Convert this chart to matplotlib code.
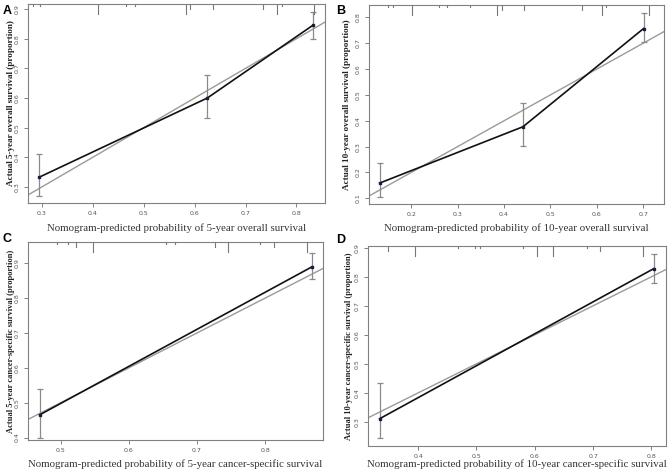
import matplotlib
matplotlib.use("Agg")
import matplotlib.pyplot as plt
import matplotlib.transforms as mtransforms

# calibration points: predicted, observed, CI low, CI high
a_pred = [0.295, 0.625, 0.832]
a_obs = [0.333, 0.600, 0.845]
a_lo = [0.268, 0.531, 0.800]
a_hi = [0.410, 0.676, 0.891]

b_pred = [0.132, 0.441, 0.701]
b_obs = [0.159, 0.377, 0.757]
b_lo = [0.104, 0.303, 0.703]
b_hi = [0.236, 0.469, 0.818]

c_pred = [0.469, 0.869]
c_obs = [0.465, 0.890]
c_lo = [0.400, 0.854]
c_hi = [0.538, 0.930]

d_pred = [0.334, 0.804]
d_obs = [0.311, 0.828]
d_lo = [0.245, 0.777]
d_hi = [0.433, 0.880]

# rug of predicted values along the top (position, relative height)
a_rug = [0.283, 0.297, 0.411, 0.466, 0.483, 0.583, 0.591, 0.636, 0.735, 0.762, 0.772, 0.834]
a_rug_h = [1, 1, 4, 1, 1, 4, 2, 2, 2, 4, 1, 4]
b_rug = [0.150, 0.161, 0.201, 0.260, 0.278, 0.327, 0.385, 0.395, 0.444, 0.569, 0.612, 0.621, 0.712]
b_rug_h = [1, 1, 4, 1, 1, 1, 4, 2, 2, 2, 4, 1, 4]
c_rug = [0.495, 0.510, 0.522, 0.548, 0.654, 0.668, 0.727, 0.746, 0.793, 0.813, 0.861]
c_rug_h = [1, 1, 2, 4, 1, 1, 2, 4, 1, 2, 4]
d_rug = [0.349, 0.394, 0.469, 0.497, 0.506, 0.580, 0.603, 0.631, 0.689, 0.712, 0.786]
d_rug_h = [2, 4, 1, 1, 1, 1, 4, 4, 1, 2, 4]

panels = [
    dict(letter="A", pred=a_pred, obs=a_obs, lo=a_lo, hi=a_hi, rug=a_rug, rug_h=a_rug_h,
         box=(28, 4, 325, 203), xlim=(0.273, 0.856), ylim=(0.246, 0.917),
         xt=[0.3, 0.4, 0.5, 0.6, 0.7, 0.8], yt=[0.3, 0.4, 0.5, 0.6, 0.7, 0.8, 0.9],
         xlabel="Nomogram-predicted probability of 5-year overall survival",
         ylabel="Actual 5-year overall survival (proportion)", ylfs=6.6,
         ylx=11, xly=228, lett=(7, 11)),
    dict(letter="B", pred=b_pred, obs=b_obs, lo=b_lo, hi=b_hi, rug=b_rug, rug_h=b_rug_h,
         box=(369, 5, 664, 204), xlim=(0.109, 0.745), ylim=(0.078, 0.848),
         xt=[0.2, 0.3, 0.4, 0.5, 0.6, 0.7], yt=[0.1, 0.2, 0.3, 0.4, 0.5, 0.6, 0.7, 0.8],
         xlabel="Nomogram-predicted probability of 10-year overall survival",
         ylabel="Actual 10-year overall survival (proportion)", ylfs=6.6,
         ylx=347, xly=228, lett=(341, 11)),
    dict(letter="C", pred=c_pred, obs=c_obs, lo=c_lo, hi=c_hi, rug=c_rug, rug_h=c_rug_h,
         box=(28, 242, 323, 440), xlim=(0.452, 0.885), ylim=(0.393, 0.961),
         xt=[0.5, 0.6, 0.7, 0.8], yt=[0.4, 0.5, 0.6, 0.7, 0.8, 0.9],
         xlabel="Nomogram-predicted probability of 5-year cancer-specific survival",
         ylabel="Actual 5-year cancer-specific survival (proportion)", ylfs=6.1,
         ylx=11, xly=464, lett=(7, 239)),
    dict(letter="D", pred=d_pred, obs=d_obs, lo=d_lo, hi=d_hi, rug=d_rug, rug_h=d_rug_h,
         box=(368, 246, 666, 446), xlim=(0.314, 0.825), ylim=(0.217, 0.906),
         xt=[0.4, 0.5, 0.6, 0.7, 0.8], yt=[0.3, 0.4, 0.5, 0.6, 0.7, 0.8, 0.9],
         xlabel="Nomogram-predicted probability of 10-year cancer-specific survival",
         ylabel="Actual 10-year cancer-specific survival (proportion)", ylfs=6.1,
         ylx=349, xly=464, lett=(341, 240)),
]

W, H = 669, 476
fig = plt.figure(figsize=(W / 100, H / 100), dpi=100)

spine_col = "#808080"
tick_col = "#555555"

for p in panels:
    l, t, r, b = p["box"]
    ax = fig.add_axes([l / W, 1 - b / H, (r - l) / W, (b - t) / H])
    ax.set_xlim(*p["xlim"])
    ax.set_ylim(*p["ylim"])

    # ideal line
    lo_ = min(p["xlim"][0], p["ylim"][0])
    hi_ = max(p["xlim"][1], p["ylim"][1])
    ax.plot([lo_, hi_], [lo_, hi_], color="#9a9a9a", lw=1.0, zorder=1)

    # error bars
    yerr = [[o - lo for o, lo in zip(p["obs"], p["lo"])],
            [hi - o for o, hi in zip(p["obs"], p["hi"])]]
    ax.errorbar(p["pred"], p["obs"], yerr=yerr, fmt="none", ecolor="#8a8a8a",
                elinewidth=0.9, capsize=2.5, capthick=0.9, zorder=2)
    ax.plot(p["pred"], p["obs"], color="#111111", lw=1.2, zorder=3)
    ax.plot(p["pred"], p["obs"], "s", color="#1a1a3a", ms=1.6, zorder=4)

    # rug at top
    trans = mtransforms.blended_transform_factory(ax.transData, ax.transAxes)
    for x, h in zip(p["rug"], p["rug_h"]):
        ax.plot([x, x], [1, 1 - 0.012 * h], color="#777777", lw=0.8, transform=trans,
                clip_on=False, zorder=2)

    for s in ax.spines.values():
        s.set_color(spine_col)
        s.set_linewidth(0.8)

    ax.set_xticks(p["xt"])
    ax.set_yticks(p["yt"])
    ax.set_xticklabels([f"{v:.1f}" for v in p["xt"]])
    ax.set_yticklabels([f"{v:.1f}" for v in p["yt"]], rotation=90, va="center")
    ax.tick_params(axis="both", length=3, width=0.7, color=spine_col, labelsize=4.5,
                   labelcolor=tick_col, pad=3)

    ax.set_xlabel(p["xlabel"], family="Liberation Serif", fontsize=7.8, color="#333333")
    ax.xaxis.set_label_coords(0.5, -(p["xly"] - b) / (b - t))
    ax.xaxis.label.set_va("center")
    ax.set_ylabel(p["ylabel"], family="Liberation Serif", fontsize=p["ylfs"],
                  fontweight="bold", color="#222222")
    ax.yaxis.set_label_coords(-(l - p["ylx"]) / (r - l), 0.5)
    ax.yaxis.label.set_va("center")

    fig.text(p["lett"][0] / W, 1 - p["lett"][1] / H, p["letter"], family="Liberation Sans",
             fontsize=9, fontweight="bold", ha="center", va="center")

fig.savefig("out.png", dpi=100)
